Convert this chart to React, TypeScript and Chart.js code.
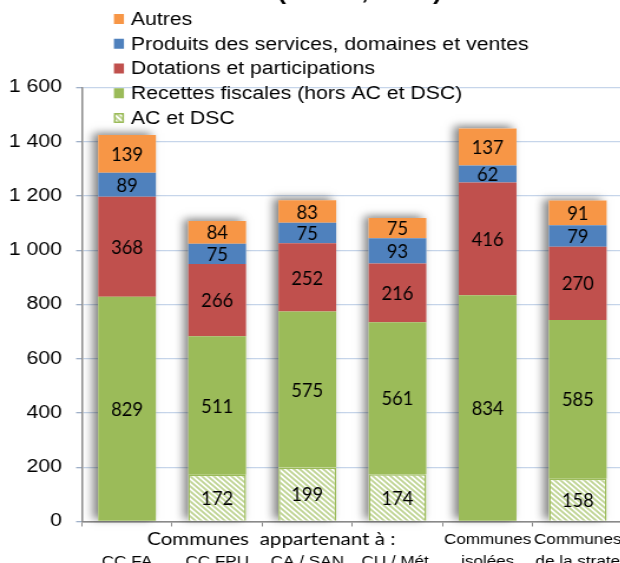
import React, { useEffect, useRef } from "react";
import { Chart, registerables } from "chart.js";

Chart.register(...registerables);

// ---------- data ----------
const categories = ["CC FA", "CC FPU", "CA / SAN", "CU / Mét.", "Communes isolées", "Communes de la strate"];
const tickLabels = [
  ["", "CC FA"],
  ["", "CC FPU"],
  ["", "CA / SAN"],
  ["", "CU / Mét."],
  ["Communes", "isolées"],
  ["Communes", "de la strate"],
];
const groupLabel = "Communes  appartenant à :";
const titleText = "(€/hab., 2013)";

const acDsc = [null, 172, 199, 174, null, 158];
const recettesFiscales = [829, 511, 575, 561, 834, 585];
const dotations = [368, 266, 252, 216, 416, 270];
const produits = [89, 75, 75, 93, 62, 79];
const autres = [139, 84, 83, 75, 137, 91];

const seriesNames = [
  "AC et DSC",
  "Recettes fiscales (hors AC et DSC)",
  "Dotations et participations",
  "Produits des services, domaines et ventes",
  "Autres",
];

// ---------- layout / style ----------
const STRETCH = 1.18;
const CW = 530;
const CH = 600;
const FONT = "Liberation Sans";
const GREEN = "#9bbb59";
const RED = "#c0504d";
const BLUE = "#4f81bd";
const ORANGE = "#f79646";

function makeHatch(ctx: CanvasRenderingContext2D) {
  const n = 5;
  const c = document.createElement("canvas");
  c.width = n;
  c.height = n;
  const g = c.getContext("2d")!;
  g.fillStyle = "#ffffff";
  g.fillRect(0, 0, n, n);
  g.strokeStyle = "#bfd493";
  g.lineWidth = 1.8;
  g.beginPath();
  g.moveTo(-1, -1);
  g.lineTo(n + 1, n + 1);
  g.moveTo(-1, n - 1);
  g.lineTo(1, n + 1);
  g.moveTo(n - 1, -1);
  g.lineTo(n + 1, 1);
  g.stroke();
  return ctx.createPattern(c, "repeat")!;
}

const fmt = (v: number) => String(v).replace(/\B(?=(\d{3})+(?!\d))/g, " ");

const shadowPlugin = {
  id: "stackShadow",
  beforeDatasetsDraw(chart: any) {
    const ctx = chart.ctx;
    const n = chart.data.labels.length;
    for (let i = 0; i < n; i++) {
      let top = Infinity, bottom = -Infinity, x = 0, w = 0;
      chart.data.datasets.forEach((_: any, d: number) => {
        const el = chart.getDatasetMeta(d).data[i];
        if (!el) return;
        const raw = chart.data.datasets[d].data[i];
        if (raw == null) return;
        top = Math.min(top, el.y);
        bottom = Math.max(bottom, el.base);
        x = el.x;
        w = el.width;
      });
      if (!isFinite(top)) continue;
      ctx.save();
      ctx.fillStyle = "#ffffff";
      ctx.shadowColor = "rgba(0,0,0,0.5)";
      ctx.shadowBlur = 8;
      ctx.shadowOffsetX = -4;
      ctx.shadowOffsetY = -2;
      ctx.fillRect(x - w / 2, top, w, bottom - top);
      ctx.restore();
    }
  },
};

const labelPlugin = {
  id: "segLabels",
  afterDatasetsDraw(chart: any) {
    const ctx = chart.ctx;
    ctx.save();
    ctx.fillStyle = "#000";
    ctx.font = '19px "Lato"';
    ctx.textAlign = "center";
    ctx.textBaseline = "middle";
    chart.data.datasets.forEach((ds: any, d: number) => {
      const meta = chart.getDatasetMeta(d);
      meta.data.forEach((el: any, i: number) => {
        const v = ds.data[i];
        if (v == null || v === 0) return;
        const y = (el.y + el.base) / 2;
        ctx.save();
        ctx.translate(el.x, y);
        ctx.scale(0.82, 1);
        ctx.fillText(String(v), 0, 1);
        ctx.restore();
      });
    });
    ctx.restore();
  },
};

const decorPlugin = {
  id: "decor",
  afterDraw(chart: any) {
    const ctx = chart.ctx;
    const xs = chart.scales.x;
    ctx.save();
    // title (cut off at top)
    ctx.fillStyle = "#000";
    ctx.font = `bold 22px "${FONT}"`;
    ctx.textAlign = "center";
    ctx.textBaseline = "alphabetic";
    ctx.fillText(titleText, 305, -1.5);

    // group header under the axis
    ctx.font = '17.5px "Lato"';
    ctx.textBaseline = "middle";
    ctx.fillText(groupLabel, xs.getPixelForValue(1.6), 539);

    // legend (top entry = last dataset)
    ctx.font = `18px "${FONT}"`;
    ctx.textAlign = "left";
    const items = chart.data.datasets.slice().reverse();
    items.forEach((ds: any, k: number) => {
      const cy = 19 + k * 24.75;
      const sx = 96.6;
      ctx.fillStyle = ds.backgroundColor;
      ctx.fillRect(sx, cy - 5, 8.5, 10);
      if (ds.borderWidth) {
        ctx.strokeStyle = ds.borderColor;
        ctx.lineWidth = 1.5;
        ctx.strokeRect(sx + 0.75, cy - 4.25, 7, 8.5);
      }
      ctx.fillStyle = "#000";
      ctx.fillText(ds.label, 111, cy + 1);
    });
    ctx.restore();
  },
};

export default function App() {
  const ref = useRef<HTMLCanvasElement | null>(null);

  useEffect(() => {
    const canvas = ref.current!;
    const ctx = canvas.getContext("2d")!;
    const hatch = makeHatch(ctx);

    const chart = new Chart(canvas, {
      type: "bar",
      data: {
        labels: categories,
        datasets: [
          { label: seriesNames[0], data: acDsc, backgroundColor: hatch as any, borderColor: GREEN, borderWidth: 1.5 },
          { label: seriesNames[1], data: recettesFiscales, backgroundColor: GREEN, borderWidth: 0 },
          { label: seriesNames[2], data: dotations, backgroundColor: RED, borderWidth: 0 },
          { label: seriesNames[3], data: produits, backgroundColor: BLUE, borderWidth: 0 },
          { label: seriesNames[4], data: autres, backgroundColor: ORANGE, borderWidth: 0 },
        ],
      },
      options: {
        responsive: false,
        animation: false,
        devicePixelRatio: 1,
        layout: { padding: { top: 87.5, left: 0, right: 0, bottom: 0 } },
        plugins: {
          legend: { display: false },
          title: { display: false },
          tooltip: { enabled: false },
        },
        datasets: { bar: { barPercentage: 0.64, categoryPercentage: 1 } },
        scales: {
          x: {
            stacked: true,
            grid: { drawOnChartArea: false, drawTicks: true, tickLength: 5, color: "#8a8a8a", offset: true },
            border: { color: "#8a8a8a", width: 1.5 },
            ticks: {
              font: { family: FONT, size: 14.5, lineHeight: 1.5 },
              color: "#000",
              padding: 3,
              maxRotation: 0,
              minRotation: 0,
              autoSkip: false,
              callback: (_v: any, i: number) => tickLabels[i],
            },
            afterFit: (s: any) => {
              s.height = CH - 521.5;
            },
          },
          y: {
            stacked: true,
            min: 0,
            max: 1600,
            ticks: {
              stepSize: 200,
              font: { family: FONT, size: 18 },
              color: "#000",
              padding: 12,
              callback: (v: any) => fmt(Number(v)),
            },
            grid: {
              color: (c: any) => (c.tick && c.tick.value === 0 ? "#8a8a8a" : "#c6d5ea"),
              lineWidth: 1.3,
              tickLength: 5,
              tickColor: "#9fb0c8",
            },
            border: { color: "#8a8a8a", width: 1.5 },
            afterFit: (s: any) => {
              s.width = 69.5;
            },
          },
        },
      },
      plugins: [shadowPlugin, labelPlugin, decorPlugin],
    } as any);

    return () => chart.destroy();
  }, []);

  return (
    <div
      style={{
        position: "fixed",
        left: 0,
        top: 0,
        width: 620,
        height: 563,
        overflow: "hidden",
        background: "#fff",
      }}
    >
      <canvas
        ref={ref}
        width={CW}
        height={CH}
        style={{ display: "block", width: `${CW * STRETCH}px`, height: `${CH}px` }}
      />
    </div>
  );
}
